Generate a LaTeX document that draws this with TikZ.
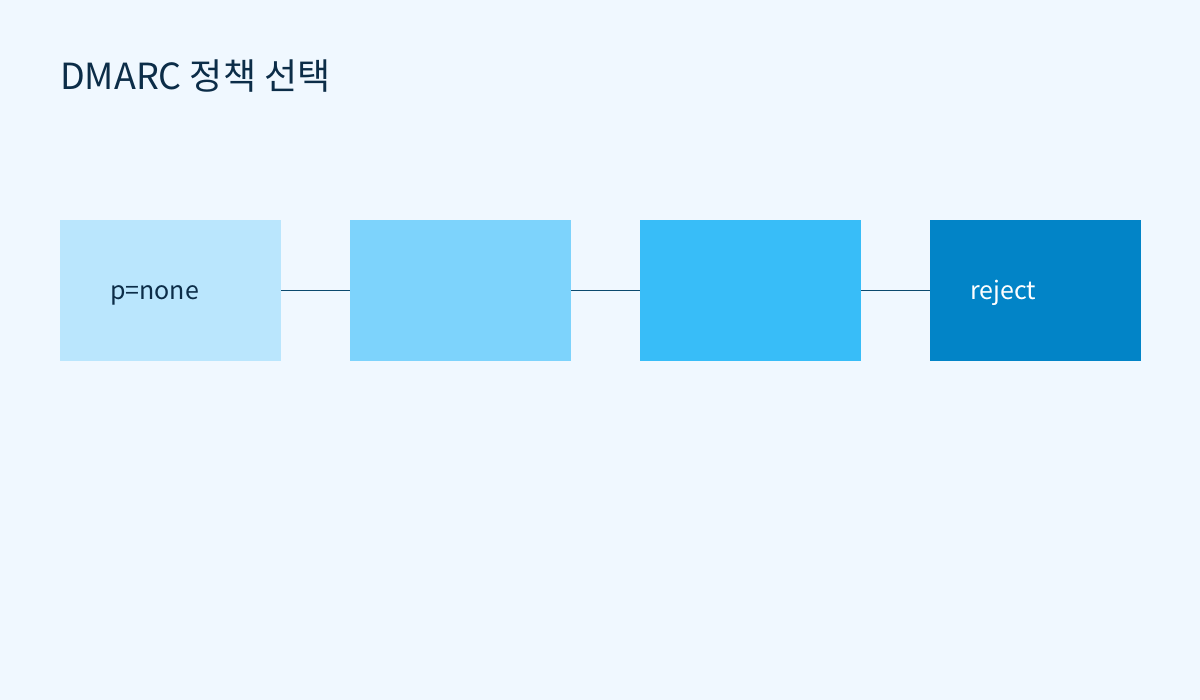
\documentclass[tikz,border=0pt]{standalone}
\usepackage{fontspec}
\setmainfont{Noto Sans CJK KR}
\definecolor{bg}{HTML}{F0F8FF}
\definecolor{c1}{HTML}{BAE6FD}
\definecolor{c2}{HTML}{7DD3FC}
\definecolor{c3}{HTML}{38BDF8}
\definecolor{c4}{HTML}{0284C7}
\definecolor{ink}{HTML}{0C2D48}
\definecolor{wire}{HTML}{0C4A6E}
\begin{document}
\begin{tikzpicture}[x=1pt,y=-1pt,
  stage/.style={draw=none,minimum width=221pt,minimum height=141pt,inner sep=0pt,anchor=north west},
  lbl/.style={anchor=base west,inner sep=0pt,font=\fontsize{25}{30}\selectfont},
  link/.style={draw=wire,line width=1.1pt}]
\fill[bg] (0,0) rectangle (1200,700);
\useasboundingbox (0,0) rectangle (1200,700);
\node[anchor=base west,inner sep=0pt,text=ink,font=\fontsize{36}{42}\selectfont] (title) at (60,90) {DMARC 정책 선택};
\node[stage,fill=c1] (s1) at (60,220) {};
\node[stage,fill=c2] (s2) at (350,220) {};
\node[stage,fill=c3] (s3) at (640,220) {};
\node[stage,fill=c4,minimum width=211pt] (s4) at (930,220) {};
\node[lbl,text=ink] (t1) at (110,300) {p=none};
\node[lbl,text=white] (t4) at (970,300) {reject};
\draw[link] (s1.east) -- (s2.west);
\draw[link] (s2.east) -- (s3.west);
\draw[link] (s3.east) -- (s4.west);
\end{tikzpicture}
\end{document}
